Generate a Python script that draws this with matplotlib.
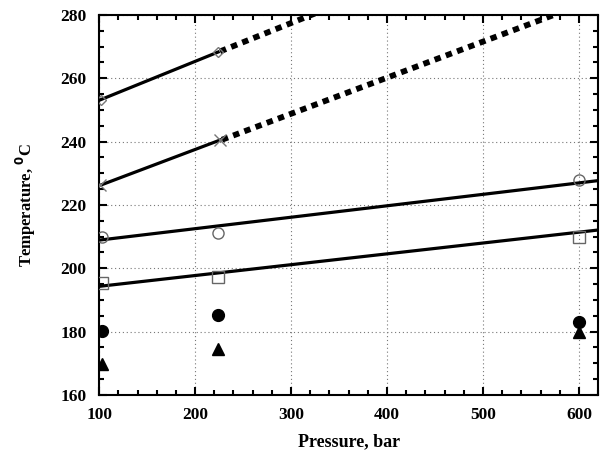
import numpy as np
import matplotlib
matplotlib.use('Agg')
import matplotlib.pyplot as plt
from matplotlib.ticker import MultipleLocator

# ── Data ───────────────────────────────────────────────
p_pts = [103, 224, 600]
t_circle_open = [210, 211, 228]
t_square_open = [195.3, 197.2, 210]
t_circle_fill = [180.2, 185.2, 183]
t_triangle = [169.8, 174.6, 180]

p_diamond = [102, 224]
t_diamond = [253.3, 268.3]
p_cross = [101, 226]
t_cross = [226.2, 240.5]

# linear fits (solid) for open circle / square series
fit_p = [100, 620]
fit_circle = [208.9, 227.7]
fit_square = [194.3, 212.1]

# dashed extrapolations
ext_diamond_p = [226, 340]
ext_diamond_t = [268.5, 282.3]
ext_cross_p = [228, 600]
ext_cross_t = [240.6, 283.0]

# ── Plot ───────────────────────────────────────────────
plt.rcParams.update({'font.family': 'Liberation Serif', 'font.weight': 'bold',
                     'font.size': 12.5})
fig = plt.figure(figsize=(6.08, 4.54), dpi=100)
ax = fig.add_axes([0.163, 0.130, 0.821, 0.837])

ax.plot(p_diamond, t_diamond, '-', color='black', lw=2.3, zorder=3)
ax.plot(ext_diamond_p, ext_diamond_t, color='black', lw=4.2, ls=(0, (1.1, 0.95)),
        solid_capstyle='butt', dash_capstyle='butt', zorder=3)
ax.plot(p_cross, t_cross, '-', color='black', lw=2.3, zorder=3)
ax.plot(ext_cross_p, ext_cross_t, color='black', lw=4.2, ls=(0, (1.1, 0.95)),
        solid_capstyle='butt', dash_capstyle='butt', zorder=3)
ax.plot(fit_p, fit_circle, '-', color='black', lw=2.3, zorder=3)
ax.plot(fit_p, fit_square, '-', color='black', lw=2.3, zorder=3)

ax.plot(p_diamond, t_diamond, 'D', ms=5.5, mfc='none', mec='#777777', mew=1, zorder=4)
ax.plot(p_cross, t_cross, 'x', ms=8, mec='#777777', mew=1, zorder=4)
ax.plot(p_pts, t_circle_open, 'o', ms=8, mfc='none', mec='#666666', mew=1, zorder=4)
ax.plot(p_pts, t_square_open, 's', ms=8, mfc='none', mec='#666666', mew=1, zorder=4)
ax.plot(p_pts, t_circle_fill, 'o', ms=8.5, color='black', zorder=4)
ax.plot(p_pts, t_triangle, '^', ms=8, color='black', zorder=4)

ax.set_xlim(100, 620)
ax.set_ylim(160, 280)
ax.xaxis.set_major_locator(MultipleLocator(100))
ax.xaxis.set_minor_locator(MultipleLocator(20))
ax.yaxis.set_major_locator(MultipleLocator(20))
ax.yaxis.set_minor_locator(MultipleLocator(5))
ax.tick_params(which='both', direction='in', top=True, right=True, width=1.5)
ax.tick_params(which='major', length=6, pad=9, labelsize=12.5)
ax.tick_params(which='minor', length=3.5)
for s in ax.spines.values():
    s.set_linewidth(1.5)
ax.grid(True, which='major', color='#777777', ls=(0, (1, 2.5)), lw=0.8)

ax.set_xlabel('Pressure, bar', fontsize=13, fontweight='bold', labelpad=7)
ax.set_ylabel('Temperature, $\\mathbf{^0}$C', fontsize=12, fontweight='bold', labelpad=16)

fig.savefig('out.png', dpi=100, facecolor='white')
